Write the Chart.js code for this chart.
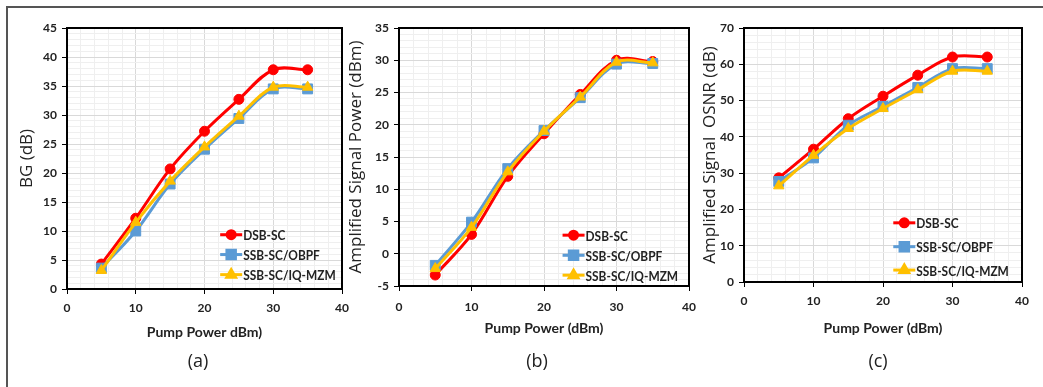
<!DOCTYPE html>
<html>
<head>
<meta charset="utf-8">
<script src="https://cdn.jsdelivr.net/npm/chart.js@4/dist/chart.umd.min.js"></script>
<style>
  html, body { margin: 0; padding: 0; background: #fff; }
  #wrap { position: relative; width: 1043px; height: 387px; overflow: hidden; }
  #wrap canvas { position: absolute; left: 0; top: 0; }
  .frame { position: absolute; left: 6px; top: 6px; right: -10px; bottom: -10px;
           border-top: 2px solid #555; border-left: 2px solid #555; }
  .cap { position: absolute; font-family: 'Open Sans', sans-serif; font-size: 18px; color: #222;
         transform: translate(-50%, -50%); }
</style>
</head>
<body>
<div id="wrap">
  <div class="frame"></div>
  <canvas id="chartA" width="1043" height="387"></canvas>
  <canvas id="chartB" width="1043" height="387"></canvas>
  <canvas id="chartC" width="1043" height="387"></canvas>
  <div class="cap" style="left:198px; top:360px;">(a)</div>
  <div class="cap" style="left:537px; top:360px;">(b)</div>
  <div class="cap" style="left:878px; top:360px;">(c)</div>
</div>
<script>
// pump power in dBm (x values for every series)
const pumpPower = [5, 10, 15, 20, 25, 30, 35];
const seriesNames = ['DSB-SC', 'SSB-SC/OBPF', 'SSB-SC/IQ-MZM'];

// (a) BG (dB)
const bgDsb = [4.3, 12.2, 20.7, 27.2, 32.7, 37.8, 37.8];
const bgObpf = [3.6, 10.0, 18.1, 24.1, 29.4, 34.5, 34.5];
const bgIq = [3.2, 11.5, 18.6, 24.5, 29.8, 34.8, 34.8];

// (b) amplified signal power (dBm)
const powDsb = [-3.3, 3.0, 12.0, 18.6, 24.7, 30.0, 29.8];
const powObpf = [-1.8, 4.9, 13.2, 19.1, 24.2, 29.4, 29.5];
const powIq = [-2.3, 4.1, 12.7, 19.0, 24.3, 29.7, 29.6];

// (c) amplified signal OSNR (dB)
const osnrDsb = [28.7, 36.6, 45.0, 51.2, 57.0, 62.0, 62.0];
const osnrObpf = [27.7, 34.2, 43.2, 48.4, 53.6, 58.8, 58.8];
const osnrIq = [26.5, 34.9, 42.3, 47.8, 53.0, 58.1, 58.1];

const xTicks = [0, 10, 20, 30, 40];

const narrow = "Lato, 'Liberation Sans', sans-serif";
const styles = [
    { color: '#FF0000', pointStyle: 'circle', radius: 5, order: 2 },
    { color: '#5B9BD5', pointStyle: 'rect', radius: 7, order: 1 },
    { color: '#FFC000', pointStyle: 'triangle', radius: 6, order: 0 }
];

// plot box on top / right
const boxPlugin = {
    id: 'plotBox',
    beforeDatasetsDraw(chart) {
        const a = chart.chartArea;
        const ctx = chart.ctx;
        ctx.save();
        ctx.strokeStyle = '#000';
        ctx.lineWidth = 2;
        ctx.strokeRect(a.left, a.top, a.right - a.left, a.bottom - a.top);
        ctx.restore();
    }
};

// legend drawn inside the plot area
const legendPlugin = {
    id: 'panelLegend',
    afterDraw(chart, args, opts) {
        const a = chart.chartArea;
        const ctx = chart.ctx;
        const x0 = a.left + opts.x * (a.right - a.left);
        ctx.save();
        seriesNames.forEach((name, i) => {
            const y = a.top + opts.rows[i] * (a.bottom - a.top);
            const st = styles[i];
            ctx.strokeStyle = st.color;
            ctx.fillStyle = st.color;
            ctx.lineWidth = 3;
            ctx.beginPath();
            ctx.moveTo(x0, y);
            ctx.lineTo(x0 + 22, y);
            ctx.stroke();
            Chart.helpers.drawPoint(ctx, { pointStyle: st.pointStyle, radius: st.radius - 1, rotation: 0, borderWidth: 1 }, x0 + 11, y);
            // condensed bold text, like the original
            ctx.save();
            ctx.translate(x0 + 23, y + 1);
            ctx.scale(0.85, 1);
            ctx.fillStyle = '#222';
            ctx.font = 'bold 14px ' + narrow;
            ctx.textBaseline = 'middle';
            ctx.fillText(name, 0, 0);
            ctx.restore();
        });
        ctx.restore();
    }
};

function makePanel(id, cfg) {
    const datasets = cfg.series.map((vals, i) => ({
        label: seriesNames[i],
        data: pumpPower.map((x, j) => ({ x: x, y: vals[j] })),
        borderColor: styles[i].color,
        backgroundColor: styles[i].color,
        borderWidth: 3,
        pointStyle: styles[i].pointStyle,
        pointRadius: styles[i].radius,
        pointBorderWidth: 1,
        tension: 0.35,
        order: styles[i].order
    }));

    new Chart(document.getElementById(id), {
        type: 'line',
        data: { datasets: datasets },
        options: {
            responsive: false,
            animation: false,
            layout: { padding: cfg.padding },
            plugins: {
                legend: { display: false },
                tooltip: { enabled: false },
                panelLegend: cfg.legend
            },
            scales: {
                x: {
                    type: 'linear',
                    min: 0,
                    max: 40,
                    afterFit: s => { s.height = 60; },
                    ticks: {
                        stepSize: 2,
                        autoSkip: false,
                        maxRotation: 0,
                        padding: cfg.xTickPad,
                        color: '#222',
                        font: { family: narrow, size: 12, weight: 'bold' },
                        callback: v => xTicks.includes(v) ? v : ''
                    },
                    grid: {
                        color: c => c.tick && c.tick.value % 10 === 0 ? '#d9d9d9' : '#efefef',
                        tickLength: 5,
                        tickColor: c => c.tick && c.tick.value % 10 === 0 ? '#000' : 'rgba(0,0,0,0)'
                    },
                    border: { color: '#000', width: 2 },
                    title: {
                        display: true,
                        text: cfg.xTitle,
                        color: '#222',
                        font: { family: narrow, size: 14, weight: 'bold' },
                        padding: { top: 0, bottom: cfg.xTitlePad }
                    }
                },
                y: {
                    min: cfg.yMin,
                    max: cfg.yMax,
                    afterFit: s => { s.width = cfg.yWidth; },
                    ticks: {
                        stepSize: cfg.yMinor,
                        autoSkip: false,
                        padding: 5,
                        color: '#222',
                        font: { family: narrow, size: 12, weight: 'bold' },
                        callback: v => v % cfg.yMajor === 0 ? v : ''
                    },
                    grid: {
                        color: c => c.tick && c.tick.value % cfg.yMajor === 0 ? '#d9d9d9' : '#efefef',
                        tickLength: 5,
                        tickColor: c => c.tick && c.tick.value % cfg.yMajor === 0 ? '#000' : 'rgba(0,0,0,0)'
                    },
                    border: { color: '#000', width: 2 },
                    title: {
                        display: true,
                        text: cfg.yTitle,
                        color: '#222',
                        font: { family: "'Open Sans', sans-serif", size: 17 },
                        padding: { top: cfg.yTitlePad, bottom: 0 }
                    }
                }
            }
        },
        plugins: [boxPlugin, legendPlugin]
    });
}

makePanel('chartA', {
    series: [bgDsb, bgObpf, bgIq],
    yMin: 0, yMax: 45, yMajor: 5, yMinor: 1,
    yTitle: 'BG (dB)',
    xTitle: 'Pump Power dBm)',
    padding: { left: 7, right: 701, top: 28, bottom: 38 },
    yWidth: 60, yTitlePad: 10,
    xTickPad: 7, xTitlePad: 8,
    legend: { x: 0.557, rows: [0.792, 0.868, 0.945] }
});

makePanel('chartB', {
    series: [powDsb, powObpf, powIq],
    yMin: -5, yMax: 35, yMajor: 5, yMinor: 1,
    yTitle: 'Amplified Signal Power (dBm)',
    xTitle: 'Pump Power (dBm)',
    padding: { left: 341, right: 354, top: 28, bottom: 41 },
    yWidth: 58, yTitlePad: 5,
    xTickPad: 9, xTitlePad: 9,
    legend: { x: 0.564, rows: [0.803, 0.881, 0.958] }
});

makePanel('chartC', {
    series: [osnrDsb, osnrObpf, osnrIq],
    yMin: 0, yMax: 70, yMajor: 10, yMinor: 2,
    yTitle: 'Amplified Signal  OSNR (dB)',
    xTitle: 'Pump Power (dBm)',
    padding: { left: 685, right: 21, top: 28, bottom: 45 },
    yWidth: 59, yTitlePad: 15,
    xTickPad: 7, xTitlePad: 5,
    legend: { x: 0.537, rows: [0.767, 0.861, 0.953] }
});
</script>
</body>
</html>
